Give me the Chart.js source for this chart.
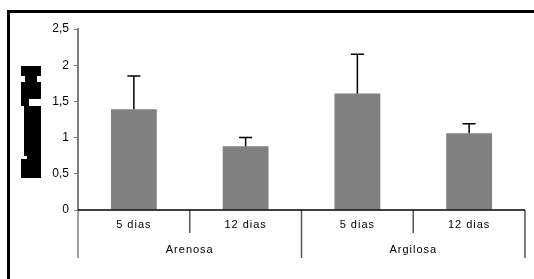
<!DOCTYPE html>
<html>
<head>
<meta charset="utf-8">
<script src="https://cdn.jsdelivr.net/npm/chart.js@4"></script>
<style>
  html, body { margin: 0; padding: 0; background: #fff; }
  #wrap { width: 534px; height: 279px; position: relative; }
</style>
</head>
<body>
<div id="wrap"><canvas id="c" width="534" height="279"></canvas></div>
<script>
(function () {
  'use strict';

  // dados
  const categories = ['5 dias', '12 dias', '5 dias', '12 dias'];
  const groups = ['Arenosa', 'Argilosa'];
  const groupSize = 2;
  const means = [1.39, 0.88, 1.61, 1.06];
  const errors = [0.46, 0.12, 0.54, 0.13];
  const yTicks = [0, 0.5, 1, 1.5, 2, 2.5];

  const fmt = (v) => String(v).replace('.', ',');
  const FONT = '11px Arial, "Liberation Sans", sans-serif';

  // moldura (topo e esquerda) + bloco do título do eixo y ilegível
  const framePlugin = {
    id: 'frame',
    beforeDraw(chart) {
      const ctx = chart.ctx;
      ctx.save();
      ctx.fillStyle = '#fff';
      ctx.fillRect(0, 0, chart.width, chart.height);
      ctx.fillStyle = '#000';
      ctx.fillRect(7, 10, chart.width - 7, 3);
      ctx.fillRect(7, 10, 3, chart.height - 10);
      // título do eixo y (glifos corrompidos no original)
      [[21, 66, 20, 10], [25, 76, 12, 6], [21, 82, 20, 17], [21, 99, 8, 7],
       [24, 106, 17, 50], [27, 156, 14, 3], [21, 159, 20, 19]].forEach(r => ctx.fillRect(r[0], r[1], r[2], r[3]));
      ctx.restore();
    }
  };

  const errorBarPlugin = {
    id: 'errorBars',
    afterDatasetsDraw(chart) {
      const ctx = chart.ctx;
      const y = chart.scales.y;
      const meta = chart.getDatasetMeta(0);
      ctx.save();
      ctx.strokeStyle = '#000';
      ctx.lineWidth = 1.5;
      meta.data.forEach((bar, i) => {
        const top = y.getPixelForValue(means[i] + errors[i]);
        const base = y.getPixelForValue(means[i]);
        ctx.beginPath();
        ctx.moveTo(bar.x, base);
        ctx.lineTo(bar.x, top);
        ctx.moveTo(bar.x - 6.5, top);
        ctx.lineTo(bar.x + 6.5, top);
        ctx.stroke();
      });
      ctx.restore();
    }
  };

  const groupAxisPlugin = {
    id: 'groupAxis',
    afterDraw(chart) {
      const ctx = chart.ctx;
      const x = chart.scales.x;
      const area = chart.chartArea;
      const y0 = area.bottom;
      const n = categories.length;
      const step = (area.right - area.left) / n;
      ctx.save();
      // separadores
      ctx.lineWidth = 1.5;
      for (let i = 0; i <= n; i++) {
        const px = area.left + i * step;
        const long = i % groupSize === 0;
        ctx.strokeStyle = i === 0 ? '#808080' : '#555';
        ctx.beginPath();
        ctx.moveTo(px, y0);
        ctx.lineTo(px, y0 + (long ? 48 : 23));
        ctx.stroke();
      }
      // eixo x
      ctx.strokeStyle = '#000';
      ctx.lineWidth = 1.5;
      ctx.beginPath();
      ctx.moveTo(area.left, y0);
      ctx.lineTo(area.right, y0);
      ctx.stroke();
      // rótulos
      ctx.fillStyle = '#000';
      ctx.font = FONT;
      ctx.textAlign = 'center';
      ctx.textBaseline = 'middle';
      if ('letterSpacing' in ctx) ctx.letterSpacing = '1px';
      categories.forEach((c, i) => ctx.fillText(c, x.getPixelForValue(i), y0 + 15));
      groups.forEach((g, gi) => {
        const cx = area.left + (gi * groupSize + groupSize / 2) * step;
        ctx.fillText(g, cx, y0 + 40);
      });
      ctx.restore();
    }
  };

  new Chart(document.getElementById('c'), {
    type: 'bar',
    data: {
      labels: categories,
      datasets: [{
        data: means,
        backgroundColor: '#808080',
        borderWidth: 0,
        categoryPercentage: 1,
        barPercentage: 0.41
      }]
    },
    options: {
      responsive: false,
      animation: false,
      layout: { padding: { top: 29, right: 9, left: 0, bottom: 0 } },
      plugins: { legend: { display: false }, tooltip: { enabled: false } },
      scales: {
        x: {
          grid: { display: false, drawTicks: false },
          border: { display: false },
          ticks: { display: false },
          afterFit: (s) => { s.height = 69; }
        },
        y: {
          min: 0,
          max: 2.5,
          afterBuildTicks: (s) => { s.ticks = yTicks.map(v => ({ value: v })); },
          afterFit: (s) => { s.width = 78; },
          grid: { drawOnChartArea: false, drawTicks: true, tickLength: 4, color: '#808080', lineWidth: 1 },
          border: { display: true, color: '#808080', width: 2 },
          ticks: {
            color: '#000',
            font: { family: 'Arial, "Liberation Sans", sans-serif', size: 12 },
            padding: 5,
            callback: (v) => fmt(v)
          }
        }
      }
    },
    plugins: [framePlugin, errorBarPlugin, groupAxisPlugin]
  });
})();
</script>
</body>
</html>
